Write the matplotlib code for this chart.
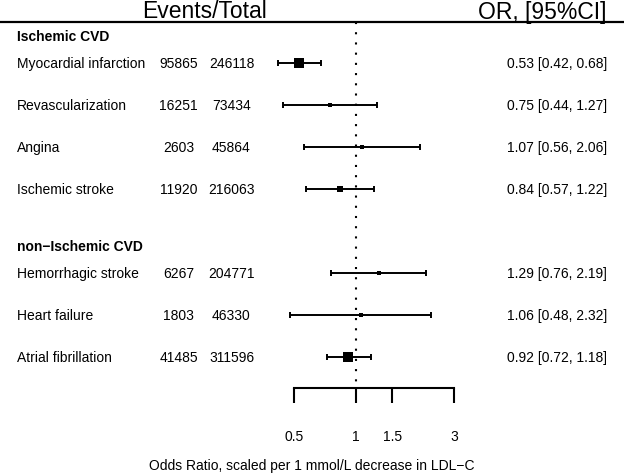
import numpy as np
import matplotlib
matplotlib.use("Agg")
import matplotlib.pyplot as plt

plt.rcParams['font.family'] = ['Liberation Sans', 'DejaVu Sans']

groups = ["Ischemic CVD", "non\u2212Ischemic CVD"]
outcomes = ["Myocardial infarction", "Revascularization", "Angina", "Ischemic stroke",
            "Hemorrhagic stroke", "Heart failure", "Atrial fibrillation"]
group_of = [0, 0, 0, 0, 1, 1, 1]
events = [95865, 16251, 2603, 11920, 6267, 1803, 41485]
totals = [246118, 73434, 45864, 216063, 204771, 46330, 311596]
odds = [0.53, 0.75, 1.07, 0.84, 1.29, 1.06, 0.92]
lower = [0.42, 0.44, 0.56, 0.57, 0.76, 0.48, 0.72]
upper = [0.68, 1.27, 2.06, 1.22, 2.19, 2.32, 1.18]
xticks = [0.5, 1, 1.5, 3]
xtick_labels = ["0.5", "1", "1.5", "3"]

W, H = 624, 477
fig = plt.figure(figsize=(W / 100, H / 100), dpi=100)
ax_t = fig.add_axes([0, 0, 1, 1])
ax_t.set_xlim(0, W)
ax_t.set_ylim(H, 0)
ax_t.axis('off')

# forest axes with log scale: 0.5 -> px 294, 3 -> px 454
k = (454 - 294) / np.log(6)
xmin = np.exp(np.log(0.5) - 294 / k)
xmax = np.exp(np.log(3) + (W - 454) / k)
ax = fig.add_axes([0, 0, 1, 1], facecolor='none')
ax.set_xscale('log')
ax.set_xlim(xmin, xmax)
ax.set_ylim(H, 0)
ax.axis('off')

# row layout
row_y = []
y = 64
prev_g = 0
for i, g in enumerate(group_of):
    if i > 0:
        y += 42 * (2 if g != prev_g else 1)
    row_y.append(y)
    prev_g = g
header_y = [row_y[group_of.index(g)] - 27 for g in range(len(groups))]

fs = 10
# header
ax_t.text(205, 12, "Events/Total", fontsize=16.5, ha='center', va='center')
ax_t.text(607, 12, "OR, [95%CI]", fontsize=16.5, ha='right', va='center')
ax_t.plot([0, W], [22.5, 22.5], color='black', lw=1.6, solid_capstyle='butt')

for g, name in enumerate(groups):
    ax_t.text(17, header_y[g], name, fontsize=fs, fontweight='bold', ha='left', va='center')

for i in range(len(outcomes)):
    yy = row_y[i]
    ax_t.text(17, yy, outcomes[i], fontsize=fs, ha='left', va='center')
    ax_t.text(178.5, yy, str(events[i]), fontsize=fs, ha='center', va='center')
    ax_t.text(231.5, yy, str(totals[i]), fontsize=fs, ha='center', va='center')
    ax_t.text(607, yy, f"{odds[i]:.2f} [{lower[i]:.2f}, {upper[i]:.2f}]",
              fontsize=fs, ha='right', va='center')

# reference line
ax.plot([1, 1], [23, 384], color='black', lw=1.5, linestyle=(0, (1, 3.9)),
        dash_capstyle='butt')

# CIs and boxes
for i in range(len(outcomes)):
    yy = row_y[i]
    ax.plot([lower[i], upper[i]], [yy, yy], color='black', lw=1.4, solid_capstyle='butt')
    for v in (lower[i], upper[i]):
        ax.plot([v, v], [yy - 2.7, yy + 2.7], color='black', lw=1.4, solid_capstyle='butt')
    se = (np.log(upper[i]) - np.log(lower[i])) / (2 * 1.96)
    side_px = 1.2 + 1.0 / se
    ax.plot([odds[i]], [yy], marker='s', color='black', markersize=side_px * 0.72,
            markeredgewidth=0)

# x axis bracket
ax.plot([xticks[0], xticks[-1]], [388.5, 388.5], color='black', lw=1.5, solid_capstyle='projecting')
for t, lab in zip(xticks, xtick_labels):
    ax.plot([t, t], [388.5, 404], color='black', lw=1.5, solid_capstyle='butt')
    ax.text(t, 437, lab, fontsize=fs, ha='center', va='center')

ax_t.text(312, 466, "Odds Ratio, scaled per 1 mmol/L decrease in LDL\u2212C",
          fontsize=fs, ha='center', va='center')

fig.savefig("out.png", dpi=100)
